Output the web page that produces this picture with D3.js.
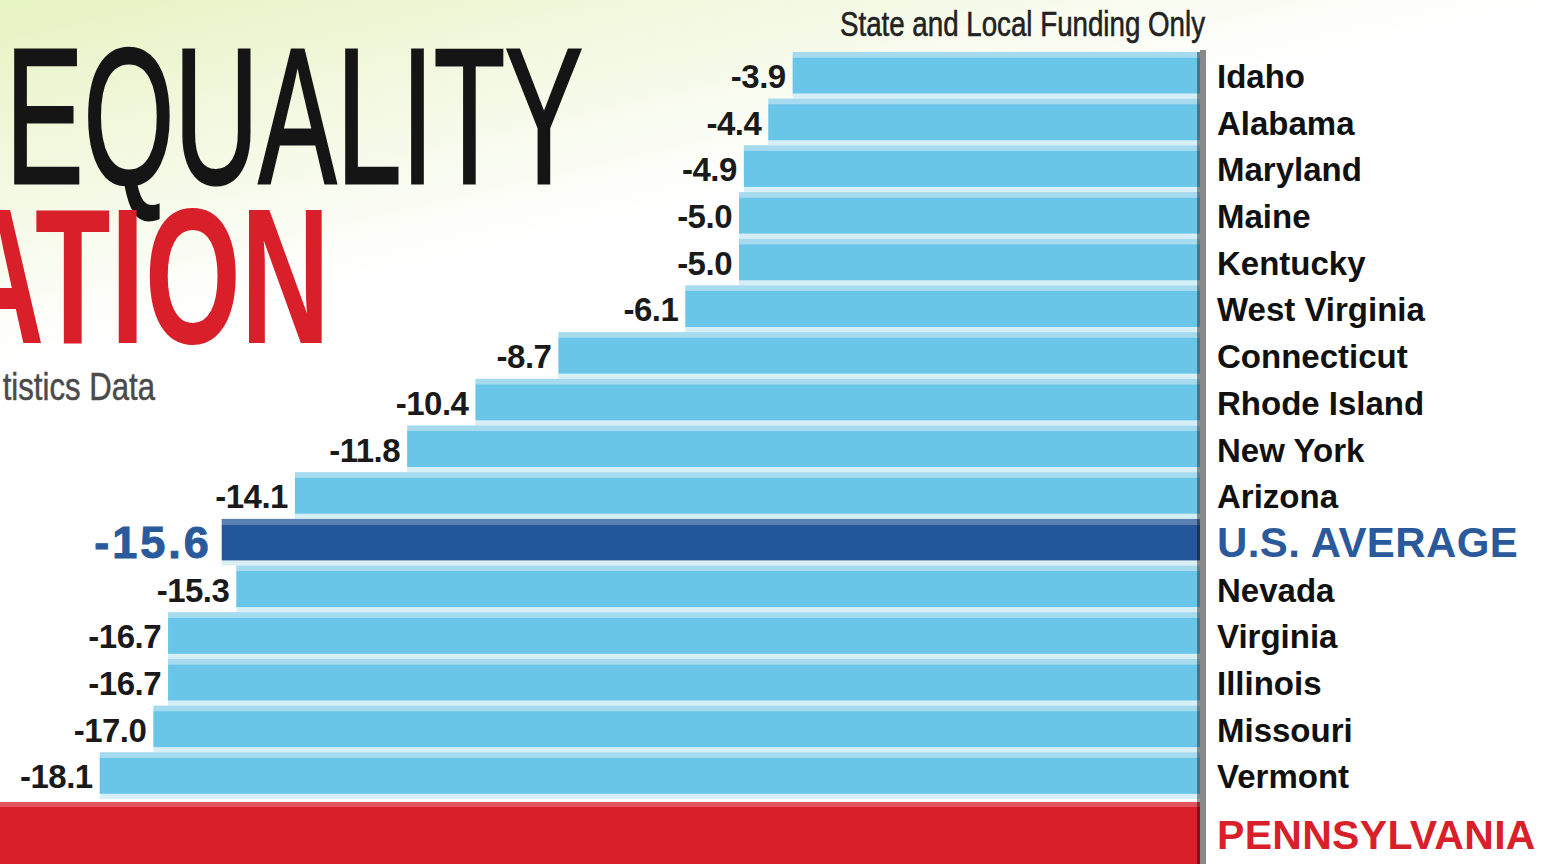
<!DOCTYPE html>
<html>
<head>
<meta charset="utf-8">
<script src="https://cdn.jsdelivr.net/npm/d3@7"></script>
<style>
  html, body { margin: 0; padding: 0; background: #fff; overflow: hidden; }
  svg { display: block; }
</style>
</head>
<body>
<svg id="chart" width="1554" height="864"></svg>
<script>
// ---- data ----
const states = ["Idaho", "Alabama", "Maryland", "Maine", "Kentucky", "West Virginia",
  "Connecticut", "Rhode Island", "New York", "Arizona", "U.S. AVERAGE", "Nevada",
  "Virginia", "Illinois", "Missouri", "Vermont"];
const values = [-3.9, -4.4, -4.9, -5.0, -5.0, -6.1, -8.7, -10.4, -11.8, -14.1, -15.6, -15.3,
  -16.7, -16.7, -17.0, -18.1];
const highlightLabel = "U.S. AVERAGE";
const paLabel = "PENNSYLVANIA";
const paValue = -33.5;
const titleLine1 = "EQUALITY";
const titleLine2 = "ATION";
const sourceText = "tistics Data";
const subtitle = "State and Local Funding Only";

// ---- setup ----
const W = 1554, H = 864;
const svg = d3.select("#chart");
const defs = svg.append("defs");
const grad = defs.append("linearGradient").attr("id", "bg")
  .attr("gradientUnits", "userSpaceOnUse")
  .attr("x1", 0).attr("y1", 0).attr("x2", 80).attr("y2", 345);
grad.append("stop").attr("offset", 0).attr("stop-color", "#e6f3c2");
grad.append("stop").attr("offset", 0.55).attr("stop-color", "#f4f9e4");
grad.append("stop").attr("offset", 1).attr("stop-color", "#ffffff");
svg.append("rect").attr("width", W).attr("height", H).attr("fill", "url(#bg)");

const axisX = 1200;
const x = d3.scaleLinear().domain([-20, 0]).range([7, 983]);
const y = d3.scaleBand().domain(states).range([52, 799]).paddingInner(0).paddingOuter(0);
const step = y.step();
const fmt = v => v.toFixed(1);

const colors = {
  body: "#69c6e8", stripe: "#a6dbef", pale: "#d6eef6",
  hbody: "#245799", hstripe: "#5b80b1",
  red: "#d81f2a", redStripe: "#e0555e"
};

const rows = states.map((s, i) => ({ s, v: values[i], hi: s === highlightLabel }));

const g = svg.append("g");
// pale gap background per row
g.selectAll("rect.pale").data(rows).join("rect")
  .attr("class", "pale")
  .attr("x", d => x(d.v)).attr("y", d => y(d.s))
  .attr("width", d => axisX - x(d.v)).attr("height", step)
  .attr("fill", d => d.hi ? "#dbeef6" : colors.pale);
// top stripe
g.selectAll("rect.stripe").data(rows).join("rect")
  .attr("class", "stripe")
  .attr("x", d => x(d.v)).attr("y", d => y(d.s))
  .attr("width", d => axisX - x(d.v)).attr("height", 5.5)
  .attr("fill", d => d.hi ? colors.hstripe : colors.stripe);
// body
g.selectAll("rect.body").data(rows).join("rect")
  .attr("class", "body")
  .attr("x", d => x(d.v)).attr("y", d => y(d.s) + 5.5)
  .attr("width", d => axisX - x(d.v)).attr("height", 36)
  .attr("fill", d => d.hi ? colors.hbody : colors.body);

// Pennsylvania bar
const paTop = 52 + states.length * step + 3;
g.append("rect").attr("x", x(paValue)).attr("y", paTop)
  .attr("width", axisX - x(paValue)).attr("height", H - paTop)
  .attr("fill", colors.red);
g.append("rect").attr("x", x(paValue)).attr("y", paTop)
  .attr("width", axisX - x(paValue)).attr("height", 5)
  .attr("fill", colors.redStripe);

// axis line
svg.append("line").attr("x1", axisX - 1.5).attr("x2", axisX - 1.5)
  .attr("y1", 52).attr("y2", H)
  .attr("stroke", "#000").attr("stroke-opacity", 0.4).attr("stroke-width", 3);
svg.append("line").attr("x1", axisX + 3).attr("x2", axisX + 3)
  .attr("y1", 50).attr("y2", H)
  .attr("stroke", "#8a8a8a").attr("stroke-width", 6);

// value labels
svg.selectAll("text.val").data(rows).join("text")
  .attr("class", "val")
  .attr("x", d => x(d.v) - (d.hi ? 10 : 7))
  .attr("y", d => y(d.s) + (d.hi ? 39 : 36))
  .attr("text-anchor", "end")
  .attr("font-family", "Liberation Sans, Arial, sans-serif")
  .attr("font-weight", "bold")
  .attr("font-size", d => d.hi ? 45 : 33)
  .attr("letter-spacing", d => d.hi ? 3 : -0.5)
  .attr("fill", d => d.hi ? "#2a5a9c" : "#1a1a1a")
  .attr("stroke", d => d.hi ? "#2a5a9c" : "none")
  .attr("stroke-width", d => d.hi ? 1 : 0)
  .text(d => fmt(d.v));

// state labels
svg.selectAll("text.lab").data(rows).join("text")
  .attr("class", "lab")
  .attr("x", 1217)
  .attr("y", d => y(d.s) + (d.hi ? 38 : 36))
  .attr("font-family", "Liberation Sans, Arial, sans-serif")
  .attr("font-weight", "bold")
  .attr("font-size", d => d.hi ? 42 : 33)
  .attr("letter-spacing", d => d.hi ? 0.4 : 0)
  .attr("fill", d => d.hi ? "#2a5a9c" : "#111")
  .text(d => d.s);
svg.append("text").attr("x", 1217).attr("y", 849)
  .attr("font-family", "Liberation Sans, Arial, sans-serif")
  .attr("font-weight", "bold").attr("font-size", 41).attr("letter-spacing", 0.3)
  .attr("fill", colors.red).text(paLabel);

// subtitle
svg.append("g").attr("transform", "translate(1205,36) scale(0.77,1)")
  .append("text").attr("text-anchor", "end")
  .attr("font-family", "Liberation Sans, Arial, sans-serif")
  .attr("font-size", 36).attr("fill", "#222")
  .attr("stroke", "#222").attr("stroke-width", 0.6)
  .text(subtitle);

// title
svg.append("g").attr("transform", "translate(583,183) scale(0.605,1)")
  .append("text").attr("text-anchor", "end")
  .attr("font-family", "Liberation Sans, Arial, sans-serif")
  .attr("font-size", 193).attr("fill", "#151515")
  .attr("stroke", "#151515").attr("stroke-width", 3)
  .text(titleLine1);
svg.append("g").attr("transform", "translate(330,343) scale(0.64,1)")
  .append("text").attr("text-anchor", "end")
  .attr("font-family", "Liberation Sans, Arial, sans-serif")
  .attr("font-weight", "bold")
  .attr("font-size", 193).attr("fill", colors.red)
  .text(titleLine2);
svg.append("g").attr("transform", "translate(155,400) scale(0.82,1)")
  .append("text").attr("text-anchor", "end")
  .attr("font-family", "Liberation Sans, Arial, sans-serif")
  .attr("font-size", 38).attr("fill", "#4a4a4a")
  .attr("stroke", "#4a4a4a").attr("stroke-width", 0.5)
  .text(sourceText);
</script>
</body>
</html>
